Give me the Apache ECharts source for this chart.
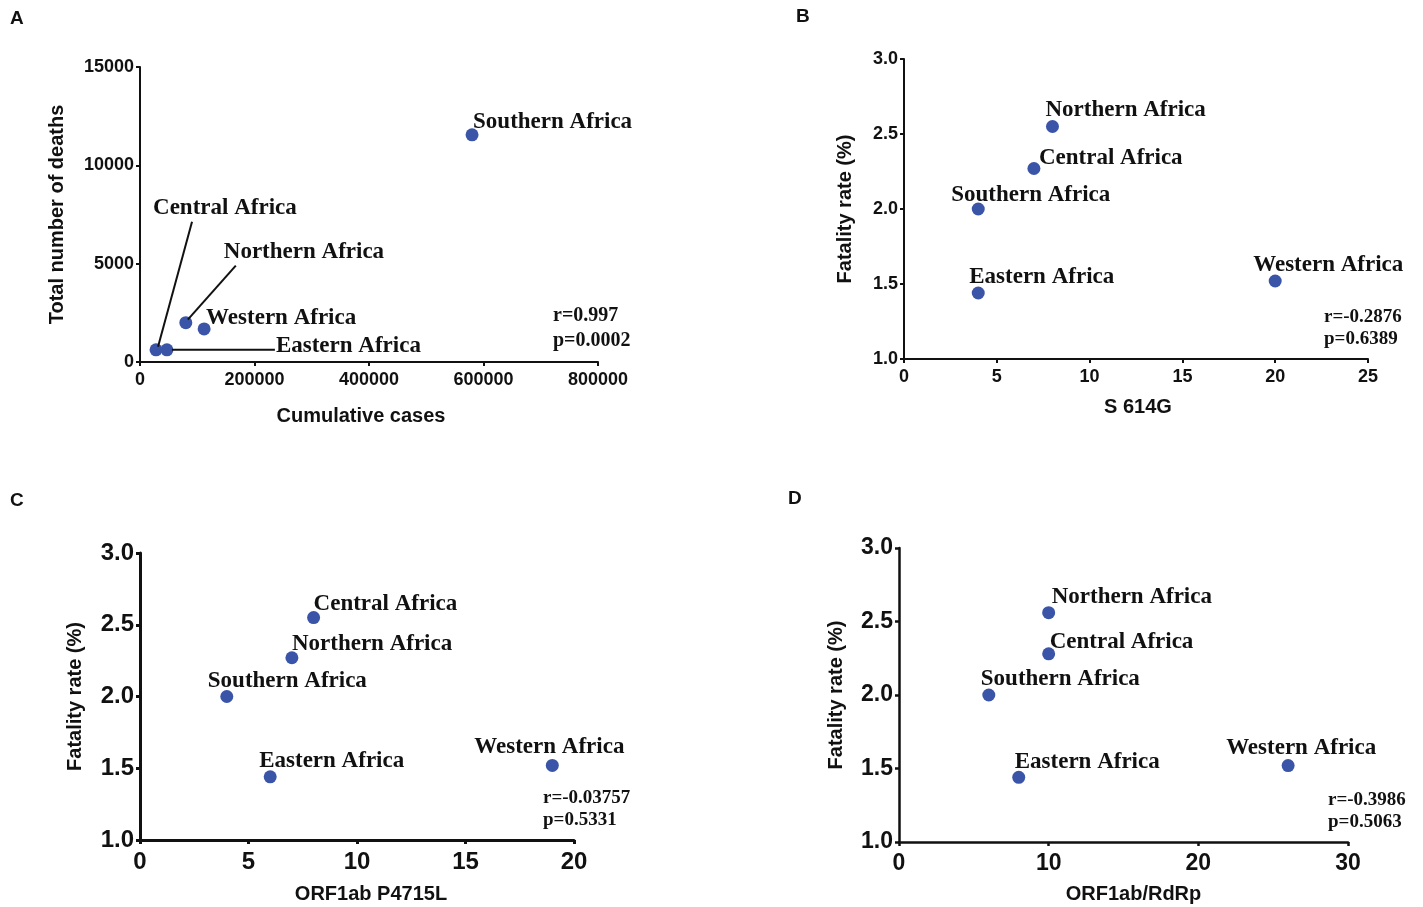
<!DOCTYPE html>
<html>
<head>
<meta charset="utf-8">
<script src="https://cdn.jsdelivr.net/npm/echarts@6/dist/echarts.min.js"></script>
<style>
html,body{margin:0;padding:0;background:#fff;}
#chart{width:1423px;height:907px;}
</style>
</head>
<body>
<div id="chart"></div>
<script>
// ---- data ----
var regions = ['Northern Africa', 'Central Africa', 'Southern Africa', 'Eastern Africa', 'Western Africa'];
// Panel A
var cumulativeCases = [80000, 28000, 580000, 47000, 112000];
var totalDeaths = [2000, 620, 11550, 620, 1680];
// Panel B
var s614g = [8, 7, 4, 4, 20];
var fatalityB = [2.55, 2.27, 2.0, 1.44, 1.52];
// Panel C
var p4715l = [7, 8, 4, 6, 19];
var fatalityC = [2.27, 2.55, 2.0, 1.44, 1.52];
// Panel D
var rdrp = [10, 10, 6, 8, 26];
var fatalityD = [2.56, 2.28, 2.0, 1.44, 1.52];
// stats text
var statsA = ['r=0.997', 'p=0.0002'];
var statsB = ['r=-0.2876', 'p=0.6389'];
var statsC = ['r=-0.03757', 'p=0.5331'];
var statsD = ['r=-0.3986', 'p=0.5063'];
// axis tick settings
var ticksA = {xMin: 0, xMax: 800000, xInt: 200000, yMin: 0, yMax: 15000, yInt: 5000};
var ticksB = {xMin: 0, xMax: 25, xInt: 5, yMin: 1.0, yMax: 3.0, yInt: 0.5};
var ticksC = {xMin: 0, xMax: 20, xInt: 5, yMin: 1.0, yMax: 3.0, yInt: 0.5};
var ticksD = {xMin: 0, xMax: 30, xInt: 10, yMin: 1.0, yMax: 3.0, yInt: 0.5};

// ---- layout (label offsets in pixels, relative to each point) ----
var offA = [[38, -71], [-3, -142], [1, -13], [109, -4], [2, -11]];
var offB = [[-7, -16], [5, -10], [-27, -14], [-9, -16], [-22, -16]];
var offC = [[0, -14], [0, -14], [-19, -15], [-11, -16], [-78, -18]];
var offD = [[3, -16], [1, -12], [-8, -16], [-4, -15], [-62, -17]];

var SANS = 'Liberation Sans, Arial, sans-serif';
var SERIF = 'Liberation Serif, Times New Roman, serif';
var BLUE = '#3a54a8';

function buildData(xs, ys, offs) {
  return regions.map(function (r, i) {
    return {
      name: r,
      value: [xs[i], ys[i]],
      label: {offset: offs[i]}
    };
  });
}

var plain = function (v) { return String(v); };
var oneDec = function (v) { return v.toFixed(1); };

function makeAxes(idx, t, xName, yName, o) {
  var x = {
    type: 'value', gridIndex: idx, min: t.xMin, max: t.xMax, interval: t.xInt,
    name: xName, nameLocation: 'middle', nameGap: o.xGap,
    nameTextStyle: {fontFamily: SANS, fontWeight: 'bold', fontSize: 20, color: '#111', padding: o.xPad},
    axisLine: {show: true, lineStyle: {color: '#111', width: o.lw}},
    axisTick: {show: true, length: 4, lineStyle: {color: '#111', width: o.lw}},
    axisLabel: {fontFamily: SANS, fontWeight: 'bold', fontSize: o.fs, color: '#111', margin: o.xMargin,
      formatter: plain},
    splitLine: {show: false}
  };
  var y = {
    type: 'value', gridIndex: idx, min: t.yMin, max: t.yMax, interval: t.yInt,
    name: yName, nameLocation: 'middle', nameGap: o.yGap, nameRotate: 90,
    nameTextStyle: {fontFamily: SANS, fontWeight: 'bold', fontSize: 20, color: '#111'},
    axisLine: {show: true, lineStyle: {color: '#111', width: o.lw}},
    axisTick: {show: true, length: 4, lineStyle: {color: '#111', width: o.lw}},
    axisLabel: {fontFamily: SANS, fontWeight: 'bold', fontSize: o.fs, color: '#111', margin: 6,
      formatter: o.yFmt || plain},
    splitLine: {show: false}
  };
  return {x: x, y: y};
}

var axA = makeAxes(0, ticksA, 'Cumulative cases', 'Total number of deaths', {xGap: 44, yGap: 73, lw: 2, fs: 18, xMargin: 9, xPad: [0, 16, 0, 0]});
var axB = makeAxes(1, ticksB, 'S 614G', 'Fatality rate (%)', {xGap: 38, yGap: 49, lw: 2, fs: 18, xMargin: 9, xPad: [0, 0, 0, 4], yFmt: oneDec});
var axC = makeAxes(2, ticksC, 'ORF1ab P4715L', 'Fatality rate (%)', {xGap: 44, yGap: 55, lw: 3, fs: 24, xMargin: 10, xPad: [0, 0, 0, 28], yFmt: oneDec});
var axD = makeAxes(3, ticksD, 'ORF1ab/RdRp', 'Fatality rate (%)', {xGap: 42, yGap: 53, lw: 2.5, fs: 23, xMargin: 10, xPad: [0, 0, 0, 20], yFmt: oneDec});

function series(idx, data, fs) {
  return {
    type: 'scatter', xAxisIndex: idx, yAxisIndex: idx,
    symbol: 'circle', symbolSize: 13,
    itemStyle: {color: BLUE, opacity: 1},
    label: {
      show: true, position: 'inside', align: 'left', verticalAlign: 'middle',
      formatter: '{b}', fontFamily: SERIF, fontWeight: 'bold', fontSize: fs, color: '#111'
    },
    emphasis: {disabled: true},
    data: data
  };
}

function txt(id, left, top, text, font, size) {
  return {
    type: 'text', id: id, left: left, top: top, z: 50,
    style: {text: text, font: 'bold ' + size + 'px ' + font, fill: '#111'}
  };
}

var statsLayout = [
  [statsA, 553, 318, 343, 20],
  [statsB, 1324, 319, 341, 19],
  [statsC, 543, 800, 822, 19],
  [statsD, 1328, 802, 824, 19]
];
var graphics = [
  txt('la', 10, 9, 'A', SANS, 19),
  txt('lb', 796, 7, 'B', SANS, 19),
  txt('lc', 10, 491, 'C', SANS, 19),
  txt('ld', 788, 489, 'D', SANS, 19)
];
statsLayout.forEach(function (s, k) {
  graphics.push(txt('r' + k, s[1], s[2] - s[4] * 0.6, s[0][0], SERIF, s[4]));
  graphics.push(txt('p' + k, s[1], s[3] - s[4] * 0.6, s[0][1], SERIF, s[4]));
});

var chart = echarts.init(document.getElementById('chart'), null, {renderer: 'canvas'});
chart.setOption({
  animation: false,
  backgroundColor: '#fff',
  grid: [
    {left: 140, top: 67, width: 458, height: 295},
    {left: 904, top: 59, width: 464, height: 300},
    {left: 140, top: 553, width: 434, height: 287},
    {left: 899, top: 548, width: 449, height: 294}
  ],
  xAxis: [axA.x, axB.x, axC.x, axD.x],
  yAxis: [axA.y, axB.y, axC.y, axD.y],
  series: [
    series(0, buildData(cumulativeCases, totalDeaths, offA), 23),
    series(1, buildData(s614g, fatalityB, offB), 23),
    series(2, buildData(p4715l, fatalityC, offC), 23),
    series(3, buildData(rdrp, fatalityD, offD), 23)
  ],
  graphic: graphics
});

// leader lines in panel A, anchored at points computed through the axes
function px(i) {
  return chart.convertToPixel({xAxisIndex: 0, yAxisIndex: 0}, [cumulativeCases[i], totalDeaths[i]]);
}
var leaderA = [
  [1, [2, -3], [36, -128]],   // Central
  [0, [2, -3], [50, -57]],    // Northern
  [3, [5, 0], [108, 0]]       // Eastern
];
var lines = leaderA.map(function (l, k) {
  var p = px(l[0]);
  return {
    type: 'line', id: 'lead' + k, z: 40,
    shape: {x1: p[0] + l[1][0], y1: p[1] + l[1][1], x2: p[0] + l[2][0], y2: p[1] + l[2][1]},
    style: {stroke: '#111', lineWidth: 2}
  };
});
chart.setOption({graphic: graphics.concat(lines)});
</script>
</body>
</html>
